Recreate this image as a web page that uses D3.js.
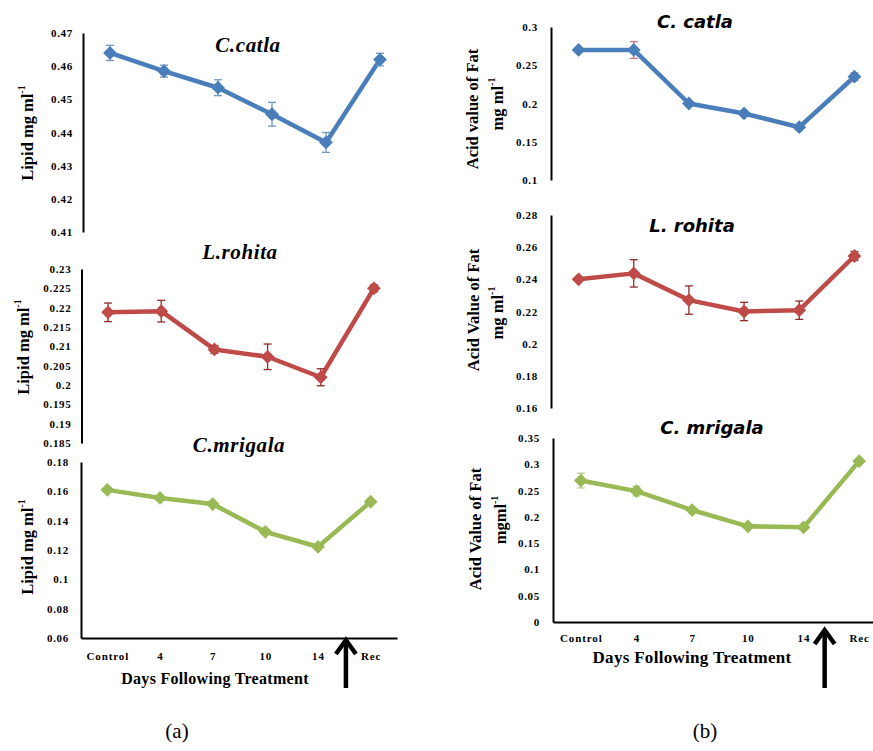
<!DOCTYPE html>
<html>
<head>
<meta charset="utf-8">
<script src="https://cdn.jsdelivr.net/npm/d3@7"></script>
<style>
  body { margin: 0; background: #fff; }
  svg { display: block; }
  .serif { font-family: "Liberation Serif", "Times New Roman", serif; }
  .sans { font-family: "DejaVu Sans", Verdana, sans-serif; }
</style>
</head>
<body>
<div id="chart"></div>
<script>
// x categories, shared by all six panels
var categories = ["Control", "4", "7", "10", "14", "Rec"];

// (a) lipid, mg ml-1
var lipidCatla = [0.464, 0.4585, 0.4535, 0.4455, 0.437, 0.462];
var lipidCatlaErr = [0.0023, 0.0018, 0.0024, 0.0036, 0.003, 0.0019];
var lipidRohita = [0.2188, 0.2191, 0.2092, 0.2073, 0.202, 0.225];
var lipidRohitaErr = [0.0024, 0.0028, 0.001, 0.0033, 0.0022, 0.0009];
var lipidMrigala = [0.161, 0.1555, 0.1513, 0.1324, 0.1222, 0.1529];
var lipidMrigalaErr = [0.0015, 0.0013, 0.0013, 0.0015, 0.0013, 0.0014];

// (b) acid value of fat
var acidCatla = [0.27, 0.27, 0.2, 0.187, 0.169, 0.235];
var acidCatlaErr = [0.003, 0.011, 0.003, 0.003, 0.003, 0.005];
var acidRohita = [0.24, 0.2437, 0.2271, 0.22, 0.2208, 0.2545];
var acidRohitaErr = [0.0012, 0.0085, 0.0088, 0.0057, 0.0057, 0.0028];
var acidMrigala = [0.269, 0.249, 0.213, 0.182, 0.18, 0.306];
var acidMrigalaErr = [0.014, 0.009, 0.004, 0.004, 0.004, 0.004];

// y tick labels
var lipidCatlaTicks = [0.41, 0.42, 0.43, 0.44, 0.45, 0.46, 0.47];
var lipidRohitaTicks = [0.185, 0.19, 0.195, 0.2, 0.205, 0.21, 0.215, 0.22, 0.225, 0.23];
var lipidMrigalaTicks = [0.06, 0.08, 0.1, 0.12, 0.14, 0.16, 0.18];
var acidCatlaTicks = [0.1, 0.15, 0.2, 0.25, 0.3];
var acidRohitaTicks = [0.16, 0.18, 0.2, 0.22, 0.24, 0.26, 0.28];
var acidMrigalaTicks = [0, 0.05, 0.1, 0.15, 0.2, 0.25, 0.3, 0.35];

var w = 873;
var h = 751;

var blue = "#4a7ebb", red = "#be4b48", green = "#98b954";

var svg = d3.select("#chart").append("svg")
  .attr("width", w)
  .attr("height", h);

svg.append("rect").attr("width", w).attr("height", h).attr("fill", "#fff");

var panels = [
  { values: lipidCatla, err: lipidCatlaErr, ticks: lipidCatlaTicks, color: blue, errColor: "#6f95c8",
    x0: 83, x1: 407, yTop: 33, yBottom: 232, pad: 10, title: "C.catla", titleFont: "serif", titleX: 248, titleY: 45,
    label: ["Lipid mg ml"], labelX: [27], labelY: [133] },
  { values: lipidRohita, err: lipidRohitaErr, ticks: lipidRohitaTicks, color: red, errColor: "#8c2b2a",
    x0: 81.5, x1: 400.5, yTop: 269, yBottom: 443, pad: 10, title: "L.rohita", titleFont: "serif", titleX: 240, titleY: 252,
    label: ["Lipid mg ml"], labelX: [23], labelY: [347] },
  { values: lipidMrigala, err: lipidMrigalaErr, ticks: lipidMrigalaTicks, color: green, errColor: "#b3cf85",
    x0: 81, x1: 397, yTop: 462, yBottom: 638, pad: 12, title: "C.mrigala", titleFont: "serif", titleX: 239, titleY: 445,
    label: ["Lipid mg ml"], labelX: [27], labelY: [547],
    xAxis: true, tickPad: 14, xTitleX: 215, xTitleY: 678, xTitleSize: 16,
    arrowFrac: 0.53, arrowTop: 638, arrowBottom: 688, caption: "(a)", captionX: 177 },
  { values: acidCatla, err: acidCatlaErr, ticks: acidCatlaTicks, color: blue, errColor: "#c8748a",
    x0: 551, x1: 882, yTop: 27, yBottom: 180, pad: 13, title: "C. catla", titleFont: "sans", titleX: 695, titleY: 21,
    label: ["Acid value of Fat", "mg ml"], labelX: [472, 497], labelY: [109, 104] },
  { values: acidRohita, err: acidRohitaErr, ticks: acidRohitaTicks, color: red, errColor: "#8c2b2a",
    x0: 551, x1: 882, yTop: 215, yBottom: 408, pad: 13, title: "L. rohita", titleFont: "sans", titleX: 692, titleY: 225,
    label: ["Acid Value of Fat", "mg ml"], labelX: [473, 497], labelY: [310, 313] },
  { values: acidMrigala, err: acidMrigalaErr, ticks: acidMrigalaTicks, color: green, errColor: "#b3cf85",
    x0: 553, x1: 887, yTop: 438, yBottom: 622, pad: 13, title: "C. mrigala", titleFont: "sans", titleX: 712, titleY: 427,
    label: ["Acid Value of Fat", "mgml"], labelX: [475, 500], labelY: [529, 520],
    xAxis: true, tickPad: 12, xTitleX: 692, xTitleY: 657, xTitleSize: 17,
    arrowFrac: 0.38, arrowTop: 628, arrowBottom: 688, caption: "(b)", captionX: 705 }
];

panels.forEach(drawPanel);

function drawPanel(p) {
  var g = svg.append("g");

  var xScale = d3.scalePoint()
    .domain(categories)
    .range([p.x0, p.x1])
    .padding(0.5);

  var yScale = d3.scaleLinear()
    .domain([p.ticks[0], p.ticks[p.ticks.length - 1]])
    .range([p.yBottom, p.yTop]);

  // y axis, no tick marks
  var yAxis = d3.axisLeft(yScale)
    .tickValues(p.ticks)
    .tickFormat(function (d) { return String(d); })
    .tickSize(0)
    .tickSizeOuter(0)
    .tickPadding(p.pad);

  var yg = g.append("g")
    .attr("transform", "translate(" + p.x0 + ",0)")
    .call(yAxis)
    .attr("font-family", null)
    .attr("font-size", null);
  yg.select(".domain").attr("stroke", "#000").attr("stroke-width", 2);
  yg.selectAll("text")
    .attr("class", "serif")
    .style("font-weight", "bold")
    .style("font-size", "11px")
    .style("letter-spacing", "0.7px")
    .attr("fill", "#000");

  // x axis only on the bottom panels
  if (p.xAxis) {
    var xAxis = d3.axisBottom(xScale).tickSize(0).tickSizeOuter(0).tickPadding(p.tickPad);
    var xg = g.append("g")
      .attr("transform", "translate(0," + p.yBottom + ")")
      .call(xAxis)
      .attr("font-family", null)
      .attr("font-size", null);
    xg.select(".domain").attr("stroke", "#000").attr("stroke-width", 2);
    xg.selectAll("text")
      .attr("class", "serif")
      .style("font-weight", "bold")
      .style("font-size", "11px")
      .style("letter-spacing", "0.9px")
      .attr("fill", "#000");

    g.append("text")
      .attr("class", "serif")
      .attr("x", p.xTitleX)
      .attr("y", p.xTitleY)
      .attr("text-anchor", "middle")
      .attr("dominant-baseline", "central")
      .style("font-weight", "bold")
      .style("font-size", p.xTitleSize + "px")
      .style("letter-spacing", "0.3px")
      .text("Days Following Treatment");

    // arrow between 14 and Rec
    var ax = xScale("14") + xScale.step() * p.arrowFrac;
    g.append("line")
      .attr("x1", ax).attr("x2", ax)
      .attr("y1", p.arrowTop + 6).attr("y2", p.arrowBottom)
      .attr("stroke", "#000")
      .attr("stroke-width", 4.5);
    g.append("path")
      .attr("d", "M" + (ax - 10) + "," + (p.arrowTop + 16) +
        " L" + ax + "," + (p.arrowTop + 2) +
        " L" + (ax + 10) + "," + (p.arrowTop + 16))
      .attr("fill", "none")
      .attr("stroke", "#000")
      .attr("stroke-width", 4.5);

    g.append("text")
      .attr("class", "serif")
      .attr("x", p.captionX)
      .attr("y", 731)
      .attr("text-anchor", "middle")
      .attr("dominant-baseline", "central")
      .style("font-size", "21px")
      .text(p.caption);
  }

  var pts = p.values.map(function (v, i) {
    return { cat: categories[i], v: v, e: p.err[i] };
  });

  // line
  var line = d3.line()
    .x(function (d) { return xScale(d.cat); })
    .y(function (d) { return yScale(d.v); });

  g.append("path")
    .datum(pts)
    .attr("d", line)
    .attr("fill", "none")
    .attr("stroke", p.color)
    .attr("stroke-width", 4.5)
    .attr("stroke-linejoin", "round");

  // error bars
  var eb = g.selectAll(".err").data(pts).enter().append("g");
  eb.append("line")
    .attr("x1", function (d) { return xScale(d.cat); })
    .attr("x2", function (d) { return xScale(d.cat); })
    .attr("y1", function (d) { return yScale(d.v - d.e); })
    .attr("y2", function (d) { return yScale(d.v + d.e); })
    .attr("stroke", p.errColor)
    .attr("stroke-width", 1.3);
  [-1, 1].forEach(function (s) {
    eb.append("line")
      .attr("x1", function (d) { return xScale(d.cat) - 4; })
      .attr("x2", function (d) { return xScale(d.cat) + 4; })
      .attr("y1", function (d) { return yScale(d.v + s * d.e); })
      .attr("y2", function (d) { return yScale(d.v + s * d.e); })
      .attr("stroke", p.errColor)
      .attr("stroke-width", 1.3);
  });

  // diamond markers
  g.selectAll(".mark").data(pts).enter().append("path")
    .attr("d", d3.symbol(d3.symbolSquare, 95))
    .attr("transform", function (d) {
      return "translate(" + xScale(d.cat) + "," + yScale(d.v) + ") rotate(45)";
    })
    .attr("fill", p.color);

  // panel title
  g.append("text")
    .attr("class", p.titleFont)
    .attr("x", p.titleX)
    .attr("y", p.titleY)
    .attr("text-anchor", "middle")
    .attr("dominant-baseline", "central")
    .style("font-weight", "bold")
    .style("font-style", "italic")
    .style("font-size", p.titleFont === "serif" ? "21px" : "18px")
    .style("letter-spacing", p.titleFont === "serif" ? "0.6px" : "0px")
    .text(p.title);

  // y axis title, rotated, with superscript -1 on the last line
  p.label.forEach(function (txt, i) {
    var t = g.append("text")
      .attr("class", "serif")
      .attr("transform", "translate(" + p.labelX[i] + "," + p.labelY[i] + ") rotate(-90)")
      .attr("text-anchor", "middle")
      .attr("dominant-baseline", "central")
      .style("font-weight", "bold")
      .style("font-size", "16.5px");
    t.append("tspan").text(txt);
    if (i === p.label.length - 1) {
      t.append("tspan")
        .attr("dy", -6)
        .style("font-size", "10px")
        .text("-1");
    }
  });
}
</script>
</body>
</html>
